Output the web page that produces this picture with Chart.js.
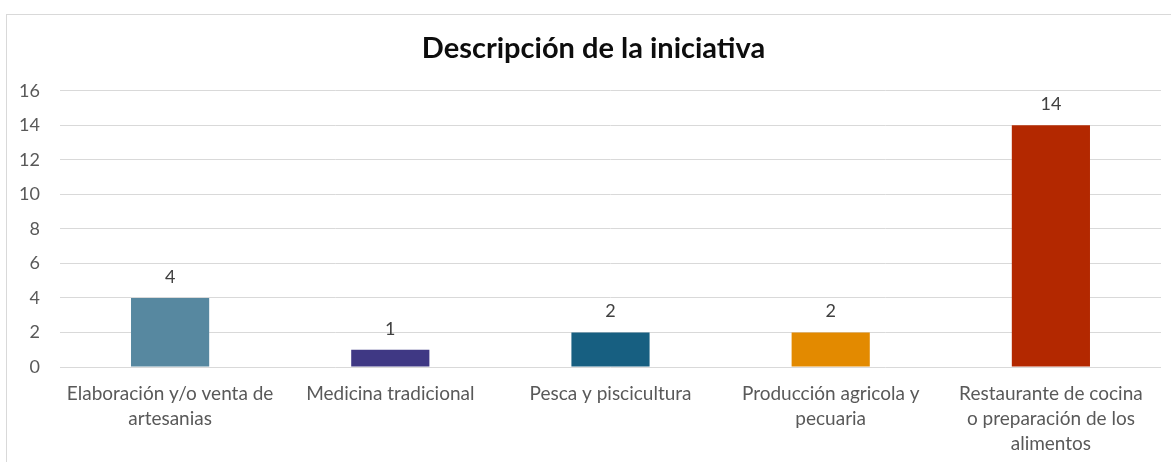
<!DOCTYPE html>
<html>
<head>
<meta charset="utf-8">
<script src="https://cdn.jsdelivr.net/npm/chart.js@4/dist/chart.umd.min.js"></script>
<style>
  html, body { margin: 0; padding: 0; background: #fff; overflow: hidden; }
  #frame {
    position: absolute; left: 6px; top: 14px;
    width: 1200px; height: 500px;
    border: 1px solid #d9d9d9; box-sizing: border-box;
  }
  #wrap { position: absolute; left: 0; top: 0; width: 1171px; height: 462px; }
</style>
</head>
<body>
<div id="frame"></div>
<div id="wrap"><canvas id="chart"></canvas></div>
<script>
// data
const categories = [
    ["Elaboración y/o venta de", "artesanias"],
    ["Medicina tradicional"],
    ["Pesca y piscicultura"],
    ["Producción agricola y", "pecuaria"],
    ["Restaurante de cocina", "o preparación de los", "alimentos"]
];
const values = [4, 1, 2, 2, 14];
const barColors = ["#5788A0", "#3F3884", "#175F81", "#E38A00", "#B32800"];
const yTicks = [0, 2, 4, 6, 8, 10, 12, 14, 16];

const textColor = "#595959";
const fontFamily = "Lato, 'Open Sans', sans-serif";

// draws the value above each bar
const valueLabels = {
    id: "valueLabels",
    afterDatasetsDraw(chart) {
        const ctx = chart.ctx;
        const meta = chart.getDatasetMeta(0);
        ctx.save();
        ctx.font = "18px " + fontFamily;
        ctx.fillStyle = "#404040";
        ctx.textAlign = "center";
        ctx.textBaseline = "middle";
        meta.data.forEach((bar, i) => {
            ctx.fillText(String(values[i]), bar.x, bar.y - 21);
        });
        ctx.restore();
    }
};

// title is centred on the outer frame, not on the plot
const shiftTitle = {
    id: "shiftTitle",
    afterLayout(chart) {
        if (chart.titleBlock) {
            chart.titleBlock.left += 10;
            chart.titleBlock.right += 10;
        }
    }
};

const ctx = document.getElementById("chart").getContext("2d");
new Chart(ctx, {
    type: "bar",
    data: {
        labels: categories,
        datasets: [{
            data: values,
            backgroundColor: barColors,
            borderWidth: 0,
            barPercentage: 0.355,
            categoryPercentage: 1
        }]
    },
    options: {
        responsive: true,
        maintainAspectRatio: false,
        animation: false,
        layout: { padding: { left: 6, right: 10, top: 25, bottom: 0 } },
        plugins: {
            legend: { display: false },
            tooltip: { enabled: false },
            title: {
                display: true,
                text: "Descripción de la iniciativa",
                color: "#0d0d0d",
                font: { family: fontFamily, size: 29, weight: "bold" },
                padding: { top: 6, bottom: 25 }
            }
        },
        scales: {
            x: {
                grid: { display: false },
                border: { display: false },
                ticks: {
                    color: textColor,
                    font: { family: fontFamily, size: 19, lineHeight: 1.32 },
                    maxRotation: 0,
                    autoSkip: false,
                    padding: 6
                },
                afterFit(scale) { scale.height = 95; }
            },
            y: {
                min: 0,
                max: 16,
                afterBuildTicks(scale) { scale.ticks = yTicks.map(v => ({ value: v })); },
                grid: { color: "#d9d9d9", lineWidth: 1, drawTicks: false },
                border: { display: false },
                ticks: {
                    color: textColor,
                    font: { family: fontFamily, size: 18 },
                    padding: 20
                },
                afterFit(scale) { scale.width = 54; }
            }
        }
    },
    plugins: [valueLabels, shiftTitle]
});
</script>
</body>
</html>
